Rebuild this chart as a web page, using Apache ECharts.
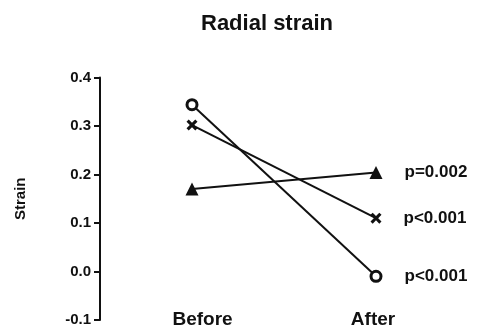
<!DOCTYPE html>
<html>
<head>
<meta charset="utf-8">
<script src="https://cdn.jsdelivr.net/npm/echarts@6/dist/echarts.min.js"></script>
<style>
  html, body { margin: 0; padding: 0; background: #fff; }
  #chart { width: 482px; height: 330px; }
</style>
</head>
<body>
<div id="chart"></div>
<script>
// Paired radial strain values, before and after
const categories = ['Before', 'After'];
const triangleValues = [0.170, 0.204];
const crossValues = [0.302, 0.110];
const circleValues = [0.344, -0.010];
const pLabels = ['p=0.002', 'p<0.001', 'p<0.001'];
const yTicks = [-0.1, 0.0, 0.1, 0.2, 0.3, 0.4];

const FONT = '"Liberation Sans", Arial, Helvetica, sans-serif';
const crossPath = 'path://M2,0L5,3L8,0L10,2L7,5L10,8L8,10L5,7L2,10L0,8L3,5L0,2Z';

// category labels sit slightly off the group centres
const categoryPadding = [[0, 0, 0, 21], [0, 6, 0, 0]];

function makeSeries(values, symbol, size, pText, itemStyle) {
  return {
    type: 'line',
    data: values.map((v, i) => ({
      value: v,
      label: i === values.length - 1 ? {
        show: true, position: 'right', distance: 22,
        formatter: pText,
        color: '#111', fontFamily: FONT, fontWeight: 'bold', fontSize: 17
      } : { show: false }
    })),
    symbol: symbol,
    symbolSize: size,
    showAllSymbol: true,
    lineStyle: { color: '#111', width: 2 },
    itemStyle: itemStyle,
    emphasis: { disabled: true },
    animation: false,
    z: 3
  };
}

const chart = echarts.init(document.getElementById('chart'));
chart.setOption({
  backgroundColor: '#fff',
  animation: false,
  title: {
    text: 'Radial strain',
    left: 196, top: 8,
    textStyle: { fontFamily: FONT, fontWeight: 'bold', fontSize: 22, color: '#111' }
  },
  grid: { left: 100, right: 14, top: 77.5, bottom: 10, outerBoundsMode: 'none', containLabel: false },
  xAxis: {
    type: 'category',
    data: categories.map((c, i) => ({
      value: c,
      textStyle: { padding: categoryPadding[i], verticalAlign: 'middle' }
    })),
    boundaryGap: true,
    axisLine: { show: false },
    axisTick: { show: false },
    axisLabel: {
      margin: 0, verticalAlign: 'middle',
      fontFamily: FONT, fontWeight: 'bold', fontSize: 19, color: '#111'
    },
    splitLine: { show: false }
  },
  yAxis: {
    type: 'value',
    min: yTicks[0], max: yTicks[yTicks.length - 1], interval: 0.1,
    name: 'Strain',
    nameLocation: 'middle',
    nameGap: 72,
    nameRotate: 90,
    nameTextStyle: { fontFamily: FONT, fontWeight: 'bold', fontSize: 15, color: '#111' },
    axisLine: { show: true, lineStyle: { color: '#111', width: 2 } },
    axisTick: { show: true, length: 6, lineStyle: { color: '#111', width: 2 } },
    axisLabel: {
      margin: 9,
      formatter: v => v.toFixed(1),
      fontFamily: FONT, fontWeight: 'bold', fontSize: 15, color: '#111'
    },
    splitLine: { show: false }
  },
  series: [
    makeSeries(triangleValues, 'triangle', 13, pLabels[0], { color: '#111' }),
    makeSeries(crossValues, crossPath, 11, pLabels[1], { color: '#111' }),
    makeSeries(circleValues, 'circle', 10, pLabels[2], { color: '#fff', borderColor: '#111', borderWidth: 3 })
  ]
});
</script>
</body>
</html>
